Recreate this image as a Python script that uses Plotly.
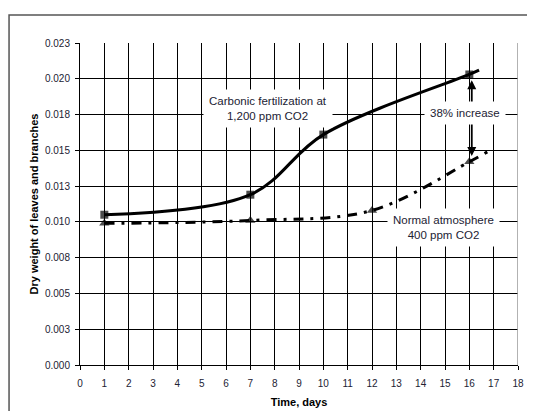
import plotly.graph_objects as go

# Data
days_co2 = [1, 7, 10, 16, 16.4]
weight_co2 = [0.0105, 0.0119, 0.0161, 0.0203, 0.0206]
marker_co2 = [8, 8, 8, 8, 0]

days_normal = [1, 7, 12, 16, 16.75]
weight_normal = [0.0099, 0.0101, 0.0108, 0.0142, 0.0149]
marker_normal = [9, 9, 9, 9, 0]

y_tickvals = [0, 0.0025, 0.005, 0.0075, 0.01, 0.0125, 0.015, 0.0175, 0.02, 0.0225]
y_ticktext = ["0.000", "0.003", "0.005", "0.008", "0.010", "0.013", "0.015", "0.018", "0.020", "0.023"]
x_tickvals = list(range(0, 19))

FONT = "Liberation Sans, Arial, sans-serif"
TXT = "#222233"

fig = go.Figure()
fig.add_trace(go.Scatter(
    x=days_co2, y=weight_co2, mode="lines+markers",
    line=dict(color="black", width=3, shape="spline", smoothing=1),
    marker=dict(symbol="square", size=marker_co2, color="black", line=dict(width=0)),
    name="Carbonic fertilization at 1,200 ppm CO2", showlegend=False,
))
fig.add_trace(go.Scatter(
    x=days_normal, y=weight_normal, mode="lines+markers",
    line=dict(color="black", width=3, shape="spline", smoothing=1, dash="10px,7px,3px,7px"),
    marker=dict(symbol="triangle-up", size=marker_normal, color="black", line=dict(width=0)),
    name="Normal atmosphere 400 ppm CO2", showlegend=False,
))

# double-headed arrow for the 38% increase
fig.add_annotation(x=16.1, y=0.0199, ax=16.1, ay=0.0145, axref="x", ayref="y",
                   xref="x", yref="y", text="", showarrow=True,
                   arrowhead=2, arrowsize=1, arrowwidth=1.8, arrowcolor="black",
                   arrowside="end+start")

ann_font = dict(family=FONT, size=11.5, color=TXT)
fig.add_annotation(x=7.73, y=0.0179, xref="x", yref="y", showarrow=False,
                   text="Carbonic fertilization at<br>1,200 ppm CO2", font=ann_font,
                   bgcolor="white", borderpad=5, align="center")
fig.add_annotation(x=15.81, y=0.0176, xref="x", yref="y", showarrow=False,
                   text="38% increase", font=ann_font,
                   bgcolor="white", borderpad=5, align="center")
fig.add_annotation(x=14.94, y=0.0096, xref="x", yref="y", showarrow=False,
                   text="Normal atmosphere<br>400 ppm CO2", font=ann_font,
                   bgcolor="white", borderpad=5, align="center")

# outer chart frame and grey right edge of plot area
fig.add_shape(type="rect", xref="paper", yref="paper",
              x0=-0.162, x1=1.1, y0=-0.25, y1=1.087,
              line=dict(color="#555555", width=1.5), fillcolor="rgba(0,0,0,0)", layer="above")
fig.add_shape(type="line", xref="x", yref="y", x0=18, x1=18, y0=0, y1=0.0225,
              line=dict(color="#999999", width=1.5), layer="above")

fig.update_xaxes(
    range=[0, 18], tickvals=x_tickvals, showgrid=True, gridcolor="black", gridwidth=1,
    zeroline=False, showline=True, linecolor="black", linewidth=1,
    ticks="outside", ticklen=4, tickcolor="black", ticklabelstandoff=5,
    tickfont=dict(family=FONT, size=10, color=TXT),
    title=dict(text="<b>Time, days</b>", font=dict(family=FONT, size=11, color="black"), standoff=10),
)
fig.update_yaxes(
    range=[0, 0.0225], tickvals=y_tickvals, ticktext=y_ticktext, showgrid=True,
    gridcolor="black", gridwidth=1, zeroline=False, showline=True, linecolor="black",
    linewidth=1, ticks="outside", ticklen=4, tickcolor="black", ticklabelstandoff=3,
    tickfont=dict(family=FONT, size=10, color=TXT),
    title=dict(text="<b>Dry weight of leaves and branches</b>",
               font=dict(family=FONT, size=11, color="black"), standoff=4),
)
fig.update_layout(
    width=527, height=403, margin=dict(l=72, r=17, t=35, b=46, autoexpand=False),
    paper_bgcolor="white", plot_bgcolor="white", showlegend=False,
    font=dict(family=FONT),
)
fig.write_html("out.html")
